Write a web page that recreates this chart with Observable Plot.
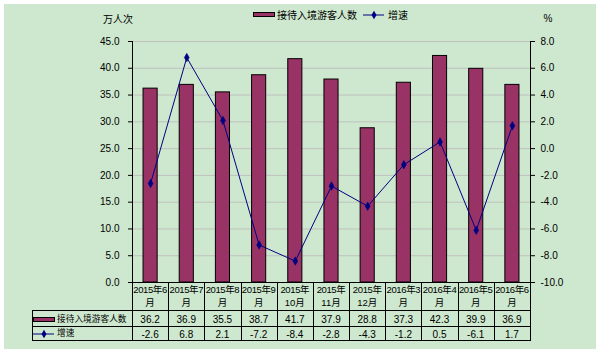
<!DOCTYPE html>
<html>
<head>
<meta charset="utf-8">
<script src="https://cdn.jsdelivr.net/npm/d3@7"></script>
<script src="https://cdn.jsdelivr.net/npm/@observablehq/plot@0.6"></script>
<style>
  html, body { margin: 0; padding: 0; background: #fff; }
  #wrap { position: relative; width: 600px; height: 354px; overflow: hidden; }
  #bg { position: absolute; left: 4px; top: 4px; width: 592px; height: 345px; background: #CDE8CE; }
  #chart { position: absolute; left: 0; top: 0; }
  svg text { font-family: "Liberation Sans", "Noto Sans CJK SC", sans-serif; }
</style>
</head>
<body>
<div id="wrap"><div id="bg"></div><div id="chart"></div></div>
<script>
const categories = ["2015年6月","2015年7月","2015年8月","2015年9月","2015年10月","2015年11月","2015年12月","2016年3月","2016年4月","2016年5月","2016年6月"];
const visitors = [36.2,36.9,35.5,38.7,41.7,37.9,28.8,37.3,42.3,39.9,36.9];
const growth = [-2.6,6.8,2.1,-7.2,-8.4,-2.8,-4.3,-1.2,0.5,-6.1,1.7];
const leftTicks = [0,5,10,15,20,25,30,35,40,45];
const rightTicks = [-10,-8,-6,-4,-2,0,2,4,6,8];
const seriesNames = ["接待入境游客人数", "增速"];
const leftUnit = "万人次";
const rightUnit = "%";

const BAR = "#993366", LINE = "#000080";
const data = categories.map((c, i) => ({cat: c, v: visitors[i], g: growth[i]}));
// right axis domain [-10, 8] mapped onto left domain [0, 45]
const toLeft = g => (g + 10) * 45 / 18;
const fromLeft = v => v * 18 / 45 - 10;

const chart = Plot.plot({
  width: 600, height: 354,
  marginLeft: 132, marginRight: 70, marginTop: 41, marginBottom: 72,
  style: {background: "transparent", fontSize: "10px", overflow: "visible"},
  x: {domain: categories, paddingInner: 0.61, paddingOuter: 0.305, round: false, axis: null},
  y: {domain: [0, 45], axis: null},
  marks: [
    Plot.gridY(leftTicks.filter(d => d > 0), {stroke: "#C0C0C0", strokeOpacity: 1}),
    Plot.barY(data, {x: "cat", y: "v", fill: BAR, stroke: "#000", strokeWidth: 1}),
    Plot.line(data, {x: "cat", y: d => toLeft(d.g), stroke: LINE, strokeWidth: 1}),
    Plot.dot(data, {x: "cat", y: d => toLeft(d.g), symbol: "diamond", r: 2.6, fill: LINE, stroke: LINE, strokeWidth: 0.5}),
    Plot.axisY({anchor: "left", ticks: leftTicks, tickFormat: d => d.toFixed(1), tickSize: 4, tickPadding: 9, label: null, stroke: "#000"}),
    Plot.axisY({anchor: "right", ticks: rightTicks.map(toLeft), tickFormat: d => fromLeft(d).toFixed(1), tickSize: 4, tickPadding: 6, label: null, stroke: "#000"}),
    Plot.frame({anchor: "left", stroke: "#000"}),
    Plot.frame({anchor: "right", stroke: "#000"})
  ]
});
document.getElementById("chart").appendChild(chart);

const svg = d3.select(chart);
const xs = chart.scale("x");
const step = xs.step, bw = xs.bandwidth;
const cx = c => xs.apply(c) + bw / 2;
const x0 = 132, x1 = 530, tableLeft = 32;
const yTop = 282, yRow1 = 310.5, yRow2 = 326.5, yBot = 340.5;
const g = svg.append("g").attr("fill", "#000").attr("font-size", 10).attr("text-anchor", "start");

// table lines
const lines = g.append("g").attr("stroke", "#000").attr("stroke-width", 1).attr("shape-rendering", "crispEdges");
lines.append("line").attr("x1", x0).attr("x2", x1 + 1).attr("y1", yTop + 0.5).attr("y2", yTop + 0.5);
[yRow1, yRow2, yBot].forEach(y => lines.append("line").attr("x1", tableLeft).attr("x2", x1 + 1).attr("y1", y).attr("y2", y));
lines.append("line").attr("x1", tableLeft).attr("x2", tableLeft).attr("y1", yRow1).attr("y2", yBot);
categories.forEach(c => {
  const xb = Math.round(cx(c) - step / 2) + 0.5;
  lines.append("line").attr("x1", xb).attr("x2", xb).attr("y1", yTop).attr("y2", yBot);
});
const xe = Math.round(cx(categories[categories.length - 1]) + step / 2) + 0.5;
lines.append("line").attr("x1", xe).attr("x2", xe).attr("y1", yTop).attr("y2", yBot);

// category labels, two lines
const wrap = s => {
  const m = s.match(/^(\d{4}年)(\d+)月$/);
  return m[2].length === 1 ? [m[1] + m[2], "月"] : [m[1], m[2] + "月"];
};
categories.forEach(c => {
  const [a, b] = wrap(c);
  g.append("text").attr("x", cx(c)).attr("y", 289).attr("text-anchor", "middle").attr("dominant-baseline", "central").attr("font-size", 9.5).attr("letter-spacing", -0.4).text(a);
  g.append("text").attr("x", cx(c)).attr("y", 302).attr("text-anchor", "middle").attr("dominant-baseline", "central").attr("font-size", 9.5).text(b);
});
data.forEach(d => {
  g.append("text").attr("x", cx(d.cat)).attr("y", 319).attr("text-anchor", "middle").attr("dominant-baseline", "central").text(d.v.toFixed(1));
  g.append("text").attr("x", cx(d.cat)).attr("y", 334).attr("text-anchor", "middle").attr("dominant-baseline", "central").text(d.g.toFixed(1));
});

// legend key inside the table
const keyBar = (x, y) => g.append("rect").attr("x", x).attr("y", y).attr("width", 21).attr("height", 4).attr("fill", BAR).attr("stroke", "#000").attr("stroke-width", 1);
const keyLine = (x, y) => {
  g.append("line").attr("x1", x).attr("x2", x + 21).attr("y1", y).attr("y2", y).attr("stroke", LINE).attr("stroke-width", 1);
  g.append("path").attr("d", d3.symbol(d3.symbolDiamond, 22)()).attr("transform", `translate(${x + 11},${y})`).attr("fill", LINE);
};
keyBar(33.5, 317.5);
g.append("text").attr("x", 57).attr("y", 318.5).attr("dominant-baseline", "central").attr("font-size", 8.7).text(seriesNames[0]);
keyLine(33, 334);
g.append("text").attr("x", 57).attr("y", 333).attr("dominant-baseline", "central").attr("font-size", 8.7).text(seriesNames[1]);

// top legend
keyBar(253.5, 12.5);
g.append("text").attr("x", 277).attr("y", 15).attr("dominant-baseline", "central").attr("font-size", 10).text(seriesNames[0]);
keyLine(363, 15);
g.append("text").attr("x", 388).attr("y", 15).attr("dominant-baseline", "central").attr("font-size", 10).text(seriesNames[1]);

// axis units
g.append("text").attr("x", 118).attr("y", 19).attr("text-anchor", "middle").attr("dominant-baseline", "central").attr("font-size", 10).text(leftUnit);
g.append("text").attr("x", 548).attr("y", 18).attr("text-anchor", "middle").attr("dominant-baseline", "central").attr("font-size", 10).text(rightUnit);
</script>
</body>
</html>
